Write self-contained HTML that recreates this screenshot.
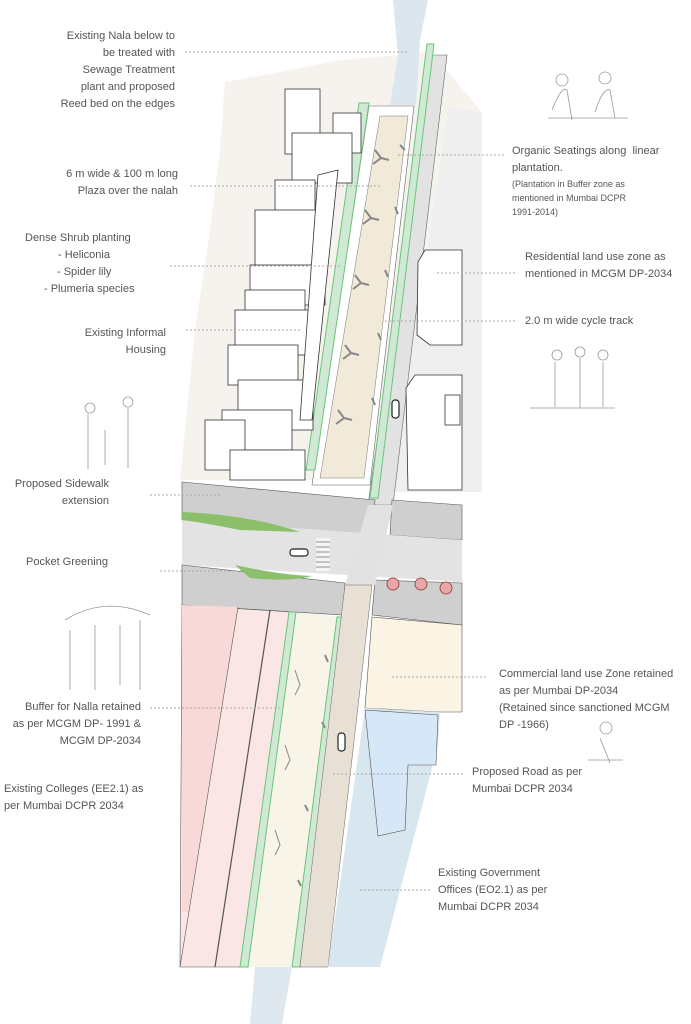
<!DOCTYPE html>
<html><head><meta charset="utf-8">
<style>
html,body{margin:0;padding:0;background:#fff;}
#c{position:relative;width:691px;height:1024px;overflow:hidden;font-family:"Liberation Sans",sans-serif;color:#555;}
.t{position:absolute;font-size:11px;line-height:17px;white-space:nowrap;}
.r{text-align:right;}
.s{font-size:9px;line-height:14px;}
svg{position:absolute;left:0;top:0;}
</style></head><body><div id="c">
<svg width="691" height="1024" viewBox="0 0 691 1024">
<g stroke="none">
<polygon points="225,82 280,72 340,60 400,55 430,50 480,110 482,480 180,480 195,330 210,230 220,150" fill="#f6f3ee"/>
<polygon points="393,0 428,0 420,40 416,105 390,105 398,55" fill="#dbe6ee"/>
<polygon points="448,108 482,112 482,492 393,492 420,300" fill="#efefef"/>
<polygon points="432,55 447,55 393,505 368,505" fill="#e2e2e2" stroke="#666" stroke-width="0.6"/>
<polygon points="369,106 414,106 370,485 312,485" fill="#fff" stroke="#666" stroke-width="0.6"/>
<polygon points="380,116 408,116 364,478 320,478" fill="#f1ead9" stroke="#777" stroke-width="0.5"/>
<polygon points="427,44 434,44 378,498 370,498" fill="#cfe9d4" stroke="#6cc47a" stroke-width="1"/>
<polygon points="359,103 369,103 315,470 306,470" fill="#cfe9d4" stroke="#6cc47a" stroke-width="1"/>
<polygon points="182,482 375,500 372,540 182,520" fill="#cfcfcf" stroke="#555" stroke-width="0.6"/>
<polygon points="392,500 462,505 462,540 390,535" fill="#cfcfcf" stroke="#555" stroke-width="0.6"/>
<polygon points="182,520 462,540 462,582 182,565" fill="#e3e3e3"/>
<polygon points="182,565 345,583 343,615 182,605" fill="#cfcfcf" stroke="#555" stroke-width="0.6"/>
<polygon points="375,580 462,583 462,625 372,615" fill="#cfcfcf" stroke="#555" stroke-width="0.6"/>
<polygon points="368,505 393,505 375,585 345,585" fill="#e2e2e2"/>
<path d="M182,512 Q250,515 300,532 L240,530 Q200,522 182,520Z" fill="#8cbf6a"/>
<path d="M235,565 Q280,575 312,576 Q290,582 250,578Z" fill="#8cbf6a"/>
<rect x="316" y="538" width="14" height="33" fill="#fff" opacity="0.6"/>
<g stroke="#777" stroke-width="0.8"><line x1="316" y1="542" x2="330" y2="542"/><line x1="316" y1="547" x2="330" y2="547"/><line x1="316" y1="552" x2="330" y2="552"/><line x1="316" y1="557" x2="330" y2="557"/><line x1="316" y1="562" x2="330" y2="562"/><line x1="316" y1="567" x2="330" y2="567"/></g>
<g fill="#e9a8a8" stroke="#833" stroke-width="0.8"><circle cx="393" cy="584" r="6"/><circle cx="421" cy="584" r="6"/><circle cx="446" cy="588" r="6"/></g>
<polygon points="182,605 292,612 247,967 180,967" fill="#fbe6e6" stroke="#555" stroke-width="0.6"/>
<polygon points="182,605 238,607 188,912 182,912" fill="#f8d9d8"/>
<line x1="270" y1="610" x2="215" y2="967" stroke="#555" stroke-width="1.2"/>
<line x1="238" y1="607" x2="180" y2="967" stroke="#555" stroke-width="0.6"/>
<polygon points="290,612 343,617 299,967 245,967" fill="#f8f4e8"/>
<polygon points="289,612 296,612 248,967 240,967" fill="#cfe9d4" stroke="#6cc47a" stroke-width="1"/>
<polygon points="337,617 344,617 300,967 292,967" fill="#cfe9d4" stroke="#6cc47a" stroke-width="1"/>
<polygon points="345,585 372,585 328,967 300,967" fill="#e8e0d4" stroke="#666" stroke-width="0.5"/>
<polygon points="372,617 462,625 462,712 440,712 365,708" fill="#fbf3e4" stroke="#555" stroke-width="0.6"/>
<polygon points="365,708 440,712 438,745 380,967 328,967" fill="#d7e6ef"/>
<polygon points="365,710 438,715 436,765 408,765 405,830 378,836" fill="#d6e8f7" stroke="#555" stroke-width="0.6"/>
<polygon points="255,967 292,967 282,1024 250,1024" fill="#dfe8ee"/>
</g>
<g fill="#fff" stroke="#333" stroke-width="0.8">
<polygon points="425,250 462,250 462,345 430,345 417,335 418,262"/>
<polygon points="415,375 462,375 462,490 408,490 406,388"/>
<rect x="445" y="395" width="15" height="30"/>
</g>
<g fill="#fff" stroke="#333" stroke-width="0.8">
<rect x="285" y="89" width="35" height="65"/>
<rect x="333" y="113" width="28" height="40"/>
<rect x="292" y="133" width="60" height="50"/>
<rect x="275" y="180" width="40" height="45"/>
<rect x="255" y="210" width="65" height="60"/>
<rect x="250" y="265" width="75" height="40"/>
<rect x="245" y="290" width="60" height="30"/>
<rect x="235" y="310" width="80" height="45"/>
<rect x="228" y="345" width="70" height="40"/>
<rect x="238" y="380" width="75" height="50"/>
<rect x="222" y="410" width="70" height="40"/>
<rect x="205" y="420" width="40" height="50"/>
<rect x="230" y="450" width="75" height="30"/>
<polygon points="318,175 338,170 312,420 300,420"/>
</g>
<g stroke="#888" stroke-width="2" fill="none">
<path d="M375,150 l6,8 l-8,6 M381,158 l8,2"/><path d="M400,145 l5,5"/>
<path d="M365,210 l6,8 l-8,6 M371,218 l8,2"/><path d="M395,207 l3,7"/>
<path d="M355,275 l6,8 l-8,6 M361,283 l8,2"/><path d="M385,270 l3,7"/>
<path d="M345,345 l6,8 l-8,6 M351,353 l8,2"/><path d="M378,333 l3,7"/>
<path d="M338,410 l6,8 l-8,6 M344,418 l8,2"/><path d="M372,398 l3,7"/>
<path d="M325,655 l3,7 M322,722 l3,6 M305,805 l3,6 M298,880 l3,6"/>
<path d="M295,670 l5,15 l-5,10 M285,745 l5,15 l-5,10 M275,830 l5,15 l-5,10" stroke-width="1"/>
</g>
<rect x="392" y="400" width="7" height="18" rx="3" fill="#fff" stroke="#222" stroke-width="1.2"/>
<rect x="338" y="733" width="7" height="18" rx="3" fill="#fff" stroke="#222" stroke-width="1.2"/>
<rect x="290" y="549" width="18" height="7" rx="3" fill="#fff" stroke="#222" stroke-width="1.2"/>
<g stroke="#aaa" stroke-width="1" stroke-dasharray="2,2">
<line x1="185" y1="52" x2="408" y2="52"/>
<line x1="190" y1="186" x2="380" y2="186"/>
<line x1="170" y1="266" x2="340" y2="266"/>
<line x1="186" y1="330" x2="302" y2="330"/>
<line x1="398" y1="155" x2="505" y2="155"/>
<line x1="437" y1="273" x2="515" y2="273"/>
<line x1="385" y1="321" x2="517" y2="321"/>
<line x1="150" y1="495" x2="222" y2="495"/>
<line x1="160" y1="571" x2="262" y2="571"/>
<line x1="392" y1="677" x2="487" y2="677"/>
<line x1="150" y1="708" x2="280" y2="708"/>
<line x1="333" y1="774" x2="463" y2="774"/>
<line x1="360" y1="890" x2="432" y2="890"/>
</g>
<g stroke="#999" stroke-width="0.8" fill="none">
<circle cx="562" cy="80" r="6"/><circle cx="605" cy="78" r="6"/><path d="M552,110 q10,-25 15,-20 l5,30 M595,112 q8,-25 15,-22 l5,28 M548,118 l80,0"/>
<circle cx="557" cy="355" r="5"/><circle cx="580" cy="352" r="5"/><circle cx="603" cy="355" r="5"/><path d="M555,362 l0,45 M580,358 l0,50 M603,362 l0,45 M530,408 l85,0"/>
<circle cx="90" cy="408" r="5"/><circle cx="128" cy="402" r="5"/><path d="M88,414 l0,55 M128,408 l0,60 M105,430 l0,35"/>
<path d="M65,620 q40,-25 85,-5 M70,630 l0,60 M95,625 l0,65 M120,625 l0,60 M140,620 l0,70"/>
<circle cx="606" cy="728" r="6"/><path d="M600,738 l10,25 M588,760 l35,0"/>
</g>
</svg>
<div class="t r" style="right:516px;top:28px;">Existing Nala below to<br>be treated with<br>Sewage Treatment<br>plant and proposed<br>Reed bed on the edges</div>
<div class="t r" style="right:513px;top:166px;">6 m wide &amp; 100 m long<br>Plaza over the nalah</div>
<div class="t" style="left:25px;top:230px;">Dense Shrub planting</div>
<div class="t" style="left:58px;top:247px;">- Heliconia</div>
<div class="t" style="left:57px;top:264px;">- Spider lily</div>
<div class="t" style="left:44px;top:281px;">- Plumeria species</div>
<div class="t r" style="right:525px;top:325px;">Existing Informal<br>Housing</div>
<div class="t r" style="right:582px;top:476px;">Proposed Sidewalk<br>extension</div>
<div class="t" style="left:26px;top:554px;">Pocket Greening</div>
<div class="t r" style="right:550px;top:699px;">Buffer for Nalla retained<br>as per MCGM DP- 1991 &amp;<br>MCGM DP-2034</div>
<div class="t" style="left:4px;top:781px;">Existing Colleges (EE2.1) as<br>per Mumbai DCPR 2034</div>
<div class="t" style="left:512px;top:143px;">Organic Seatings along&nbsp; linear<br>plantation.</div>
<div class="t s" style="left:512px;top:177px;">(Plantation in Buffer zone as<br>mentioned in Mumbai DCPR<br>1991-2014)</div>
<div class="t" style="left:525px;top:249px;">Residential land use zone as<br>mentioned in MCGM DP-2034</div>
<div class="t" style="left:525px;top:313px;">2.0 m wide cycle track</div>
<div class="t" style="left:499px;top:666px;">Commercial land use Zone retained<br>as per Mumbai DP-2034<br>(Retained since sanctioned MCGM<br>DP -1966)</div>
<div class="t" style="left:472px;top:764px;">Proposed Road as per<br>Mumbai DCPR 2034</div>
<div class="t" style="left:438px;top:865px;">Existing Government<br>Offices (EO2.1) as per<br>Mumbai DCPR 2034</div>
</div></body></html>
